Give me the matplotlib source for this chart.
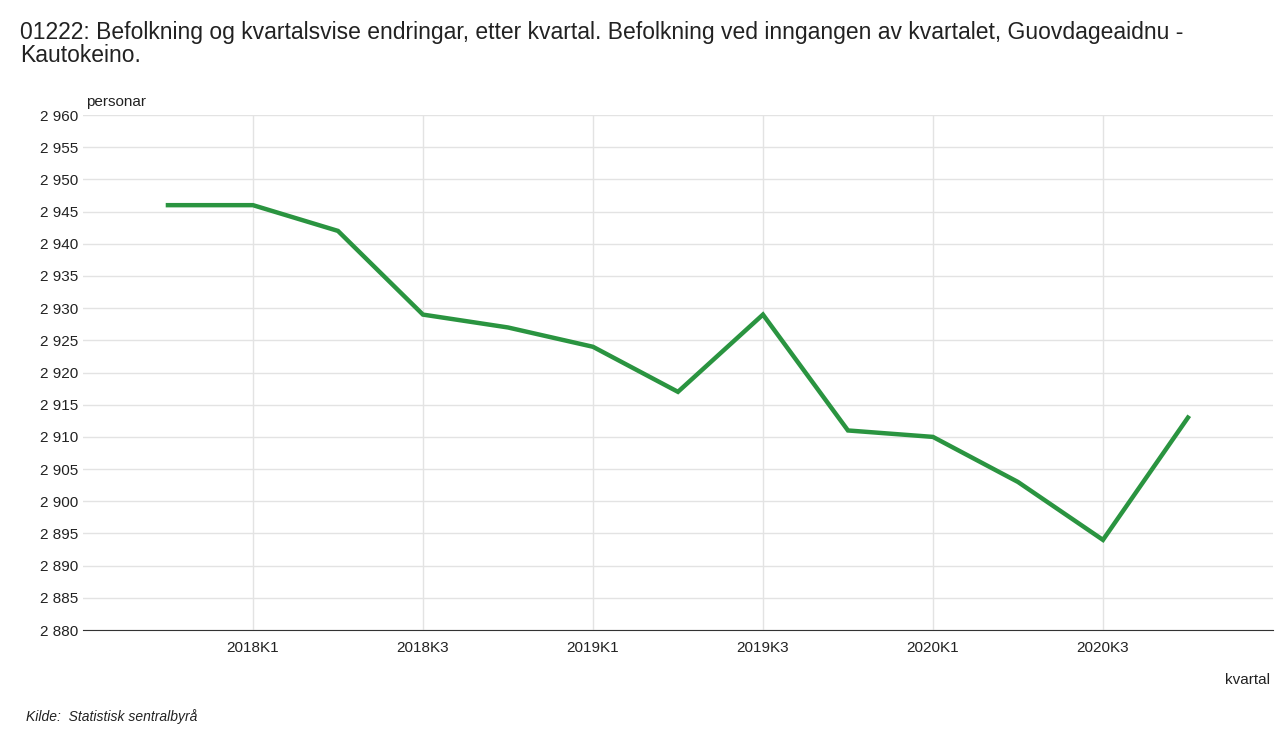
import matplotlib
matplotlib.use("Agg")
import matplotlib.pyplot as plt
from matplotlib.ticker import FuncFormatter

quarters = ["2017K4", "2018K1", "2018K2", "2018K3", "2018K4", "2019K1", "2019K2",
            "2019K3", "2019K4", "2020K1", "2020K2", "2020K3", "2020K4"]
population = [2946, 2946, 2942, 2929, 2927, 2924, 2917, 2929, 2911, 2910, 2903, 2894, 2913]
tick_labels = ["2018K1", "2018K3", "2019K1", "2019K3", "2020K1", "2020K3"]

plt.rcParams["font.family"] = "Liberation Sans"

fig = plt.figure(figsize=(12.8, 7.47), dpi=100)
ax = fig.add_axes([0.0648, 0.1566, 0.9297, 0.6894])

x = list(range(len(quarters)))
ax.plot(x, population, color="#2a9440", lw=3.2, solid_joinstyle="miter")

ax.set_xlim(-1, len(quarters))
ax.set_ylim(2880, 2960)
ax.set_yticks(range(2880, 2961, 5))
ax.yaxis.set_major_formatter(FuncFormatter(lambda v, p: f"{int(v):,}".replace(",", " ")))
ax.set_xticks([quarters.index(t) for t in tick_labels])
ax.set_xticklabels(tick_labels)
ax.tick_params(axis="both", length=0, labelsize=11, colors="#222222")
ax.tick_params(axis="x", pad=8)
ax.grid(True, color="#e3e3e3", lw=1)
ax.set_axisbelow(True)
for s in ["top", "right", "left"]:
    ax.spines[s].set_visible(False)
ax.spines["bottom"].set_color("#333333")

fig.text(0.0672, 0.858, "personar", fontsize=11, color="#222222")
fig.text(0.992, 0.085, "kvartal", fontsize=11, color="#222222", ha="right")
fig.text(0.016, 0.91, "01222: Befolkning og kvartalsvise endringar, etter kvartal. Befolkning ved inngangen av kvartalet, Guovdageaidnu -\nKautokeino.",
         fontsize=16.5, color="#222222", va="bottom", linespacing=1.0)
fig.text(0.02, 0.035, "Kilde:  Statistisk sentralbyrå", fontsize=10, style="italic", color="#222222")

fig.savefig("out.png", dpi=100)
